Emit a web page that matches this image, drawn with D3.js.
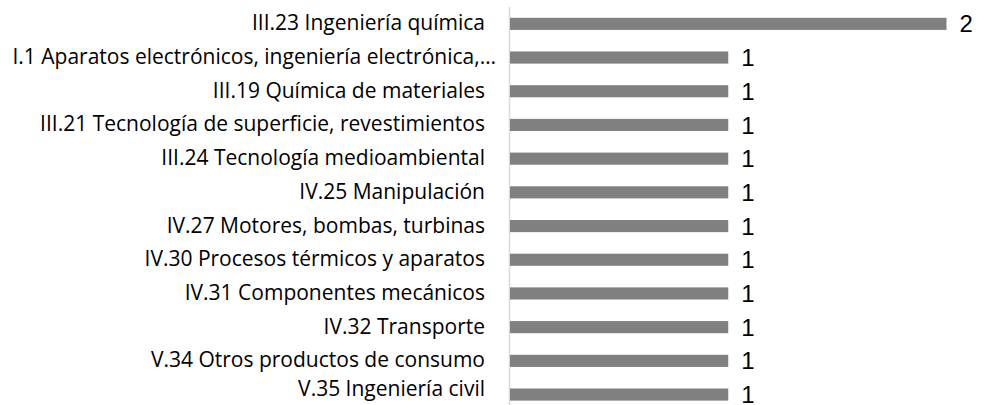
<!DOCTYPE html>
<html><head><meta charset="utf-8">
<script src="https://cdn.jsdelivr.net/npm/d3@7"></script>
<style>body{margin:0;background:#fff}svg{display:block}</style>
</head><body>
<svg id="c" width="981" height="405"></svg>
<script>
const categories = [
  "III.23 Ingeniería química",
  "I.1 Aparatos electrónicos, ingeniería electrónica,…",
  "III.19 Química de materiales",
  "III.21 Tecnología de superficie, revestimientos",
  "III.24 Tecnología medioambiental",
  "IV.25 Manipulación",
  "IV.27 Motores, bombas, turbinas",
  "IV.30 Procesos térmicos y aparatos",
  "IV.31 Componentes mecánicos",
  "IV.32 Transporte",
  "V.34 Otros productos de consumo",
  "V.35 Ingeniería civil"
];
const values = [2, 1, 1, 1, 1, 1, 1, 1, 1, 1, 1, 1];

const svg = d3.select("#c");
const x = d3.scaleLinear().domain([0, 2]).range([510, 946.5]);
const y = d3.scaleBand().domain(categories).range([7, 411.4]).paddingInner(0.64).paddingOuter(0.32);

svg.append("line").attr("x1", 509.5).attr("x2", 509.5).attr("y1", 7).attr("y2", 405)
  .attr("stroke", "#d9d9d9").attr("stroke-width", 1.5);

svg.selectAll("rect.bar").data(categories).join("rect").attr("class", "bar")
  .attr("x", x(0)).attr("y", d => y(d))
  .attr("width", (d, i) => x(values[i]) - x(0)).attr("height", y.bandwidth())
  .attr("fill", "#808080");

const fs = 21;
svg.selectAll("text.cat").data(categories).join("text").attr("class", "cat")
  .attr("x", d => d.endsWith("…") ? 496 : 485)
  .attr("y", d => Math.min(y(d) + y.bandwidth() / 2 - 1 + 0.357 * fs, 396))
  .attr("text-anchor", "end")
  .style("font-family", "'Open Sans', sans-serif").style("font-size", fs + "px")
  .attr("fill", "#000").text(d => d);

const vs = 24;
svg.selectAll("text.val").data(categories).join("text").attr("class", "val")
  .attr("x", (d, i) => x(values[i]) + 13)
  .attr("y", d => Math.min(y(d) + y.bandwidth() / 2 + 0.358 * vs, 403))
  .style("font-family", "'Liberation Sans', Arial, sans-serif").style("font-size", vs + "px")
  .attr("fill", "#000").text((d, i) => values[i]);
</script>
</body></html>
